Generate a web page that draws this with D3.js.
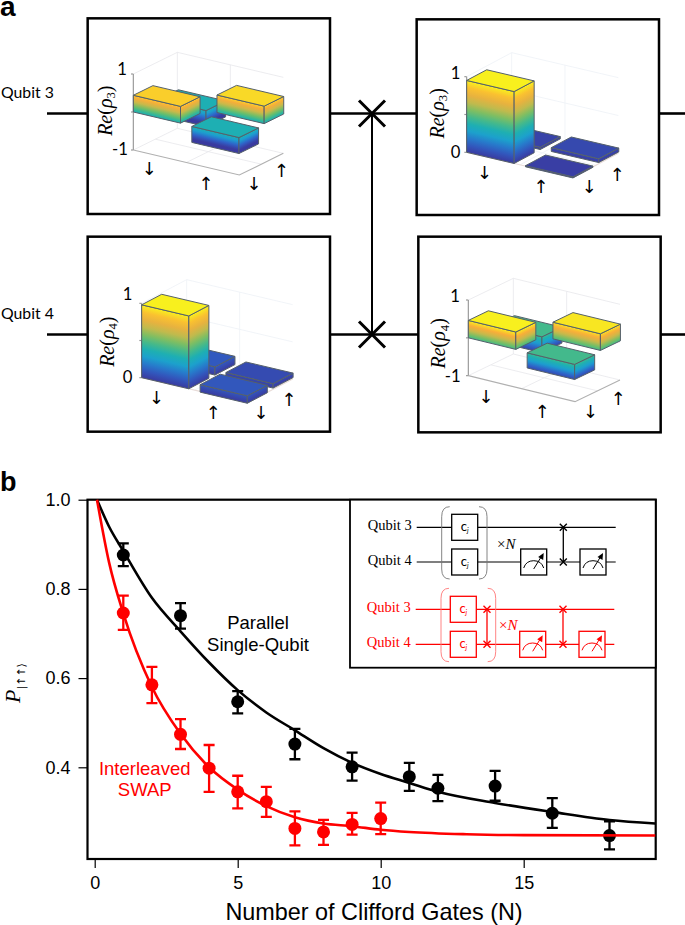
<!DOCTYPE html>
<html>
<head>
<meta charset="utf-8">
<title></title>
<script src="https://d3js.org/d3.v7.min.js"></script>
<style>
    body { margin: 0; background: #fff; }
    svg { display: block; }
    .bars { filter: blur(0.35px); }
</style>
</head>
<body>
<div id="chart"></div>
<script>
// panel a: bar heights, order is back-left, back-right, front-left, front-right
const rho3Before = [-0.42, 0.46, 0.44, -0.42]
const rho3After = [0.03, 0.05, 0.95, 0.015]
const rho4Before = [0.11, 0.06, 0.98, 0.1]
const rho4After = [-0.42, 0.44, 0.46, -0.40]
const barCells = [[0, 0.58], [0.54, 0.6], [0, 0], [0.56, -0.02]]
const barSize = 0.445

// panel b
const parallelN = [1, 3, 5, 7, 9, 11, 12, 14, 16, 18]
const parallelP = [0.876, 0.74, 0.547, 0.452, 0.401, 0.379, 0.353, 0.358, 0.297, 0.247]
const parallelHi = [0.902, 0.768, 0.571, 0.486, 0.433, 0.41, 0.383, 0.392, 0.331, 0.279]
const parallelLo = [0.851, 0.711, 0.521, 0.418, 0.37, 0.347, 0.324, 0.325, 0.264, 0.216]
const swapN = [1, 2, 3, 4, 5, 6, 7, 8, 9, 10]
const swapP = [0.746, 0.585, 0.474, 0.398, 0.345, 0.323, 0.263, 0.255, 0.272, 0.285]
const swapHi = [0.785, 0.625, 0.508, 0.45, 0.381, 0.356, 0.301, 0.282, 0.298, 0.321]
const swapLo = [0.708, 0.544, 0.441, 0.345, 0.308, 0.289, 0.225, 0.226, 0.249, 0.25]

const parallelFitN = [0.08, 0.5, 1, 2, 3, 4, 5, 6, 7, 8, 9, 10, 11, 12, 14, 16, 18, 19.6]
const parallelFitP = [1, 0.94, 0.885, 0.78, 0.705, 0.635, 0.573, 0.523, 0.483, 0.443, 0.41, 0.385, 0.365, 0.345, 0.32, 0.3, 0.282, 0.274]
const swapFitN = [0.08, 0.5, 1, 2, 3, 4, 5, 6, 7, 8, 9, 10, 11, 13, 15, 19.6]
const swapFitP = [1, 0.86, 0.745, 0.58, 0.475, 0.4, 0.35, 0.313, 0.288, 0.274, 0.268, 0.26, 0.255, 0.25, 0.248, 0.247]

const xTicks = [0, 5, 10, 15]
const yTicks = [1, 0.8, 0.6, 0.4]

const parula = ["#3a3a9f", "#2f62c8", "#1c9fd0", "#1fb3ab", "#6cbf68", "#c9b94a", "#fbad38", "#f8f01e"]

const svg = d3.select("#chart").append("svg").attr("width", 685).attr("height", 925)
const defs = svg.append("defs")
const sans = "'Liberation Sans', Arial, sans-serif"
const serif = "'Liberation Serif', serif"
const calibri = "Lato, sans-serif"
const arrowFont = "'DejaVu Sans', sans-serif"

svg.append("text").attr("x", 0).attr("y", 15.5).text("a").style("font", "bold 28px " + sans)
svg.append("text").attr("x", 0).attr("y", 491).text("b").style("font", "bold 27px " + sans)

// wires + swap gate
const wires = svg.append("g").attr("stroke", "#000").attr("stroke-width", 2.6).attr("fill", "none")
;[113.5, 334.5].forEach(y => {
    wires.append("line").attr("x1", 47).attr("x2", 90).attr("y1", y).attr("y2", y)
    wires.append("line").attr("x1", 328).attr("x2", 418).attr("y1", y).attr("y2", y)
    wires.append("line").attr("x1", 658).attr("x2", 685).attr("y1", y).attr("y2", y)
    wires.append("path").attr("d", `M359,${y - 13}L385,${y + 13}M359,${y + 13}L385,${y - 13}`).attr("stroke-width", 3)
})
wires.append("line").attr("x1", 372).attr("x2", 372).attr("y1", 113.5).attr("y2", 334.5).attr("stroke-width", 2)
svg.append("text").attr("x", 1).attr("y", 97.5).text("Qubit 3").style("font", "15.8px " + calibri)
svg.append("text").attr("x", 1).attr("y", 318.5).text("Qubit 4").style("font", "15.8px " + calibri)

// panels are laid out in thirds of a pixel, g gets scale(1/3)
const panels = [
    {
        values: rho3Before, sub: "3", cx: 80, cy: 10, frame: [23, 25, 750, 612], ox: 160,
        zDomain: [-1, 1], zRange: [420, 192], X: [318, 75], Y: [132, -65], colorDomain: [-0.33, 0.5],
        grid: "#e8e8ec", floor: "#b0b0b0",
        tickLabels: [["1", 126, 196], ["-1", 120, 436]], zTicks: [-1, 0, 1], re: [80, 302],
        arrows: [["↓", 208, 475], ["↑", 378, 520], ["↓", 522, 520], ["↑", 605, 482]]
    },
    {
        values: rho3After, sub: "3", cx: 410, cy: 10, frame: [20, 28, 747, 615], ox: 170,
        zDomain: [0, 1], zRange: [427, 200], X: [320, 75], Y: [135, -72], colorDomain: [0, 0.95],
        grid: "#eef2f6", floor: "#e8dcd8",
        tickLabels: [["1", 137, 208], ["0", 137, 445]], zTicks: [0, 0.5, 1], re: [85, 310],
        arrows: [["↓", 224, 487], ["↑", 393, 530], ["↓", 538, 530], ["↑", 622, 492]]
    },
    {
        values: rho4Before, sub: "4", cx: 80, cy: 230, frame: [23, 20, 750, 605], ox: 185,
        zDomain: [0, 1], zRange: [443, 220], X: [318, 75], Y: [135, -71], colorDomain: [0, 0.98],
        grid: "#eef2f6", floor: "#e8dcd8",
        tickLabels: [["1", 143, 211], ["0", 143, 460]], zTicks: [0, 0.5, 1], re: [85, 335],
        arrows: [["↓", 230, 502], ["↑", 400, 547], ["↓", 543, 547], ["↑", 627, 508]]
    },
    {
        values: rho4After, sub: "4", cx: 410, cy: 230, frame: [25, 20, 752, 607], ox: 175,
        zDomain: [-1, 1], zRange: [437, 210], X: [320, 78], Y: [135, -65], colorDomain: [-0.45, 0.46],
        grid: "#e8e8ec", floor: "#b0b0b0",
        tickLabels: [["1", 135, 215], ["-1", 128, 457]], zTicks: [-1, 0, 1], re: [90, 340],
        arrows: [["↓", 228, 498], ["↑", 397, 543], ["↓", 542, 543], ["↑", 625, 505]]
    }
]

panels.forEach((p, pi) => {
    const g = svg.append("g").attr("transform", `translate(${p.cx},${p.cy}) scale(${1 / 3})`)
    g.append("rect")
        .attr("x", p.frame[0]).attr("y", p.frame[1])
        .attr("width", p.frame[2] - p.frame[0]).attr("height", p.frame[3] - p.frame[1])
        .attr("fill", "#fff").attr("stroke", "#000").attr("stroke-width", 7.5)

    const zScale = d3.scaleLinear().domain(p.zDomain).range(p.zRange)
    const project = (a, b, z) => [
        p.ox + p.X[0] * a + p.Y[0] * b,
        zScale(z) + p.X[1] * a + p.Y[1] * b
    ]
    const color = d3.scaleLinear()
        .domain(parula.map((c, i) => p.colorDomain[0] + (p.colorDomain[1] - p.colorDomain[0]) * i / (parula.length - 1)))
        .range(parula)
        .clamp(true)

    const line = d3.line()
    const zLo = p.zDomain[0], zHi = p.zDomain[1]

    // back wall and floor grid
    const grid = g.append("g").attr("fill", "none").attr("stroke", p.grid).attr("stroke-width", 2.5)
    grid.append("path").attr("d", line([project(0, 0, zHi), project(0, 1, zHi), project(1, 1, zHi)]))
    grid.append("path").attr("d", line([project(0, 1, zLo), project(1, 1, zLo)]))
    grid.append("path").attr("d", line([project(0, 1, (zLo + zHi) / 2), project(1, 1, (zLo + zHi) / 2)]))
    grid.append("path").attr("d", line([project(0, 1, zLo), project(0, 1, zHi)]))
    grid.append("path").attr("d", line([project(0.5, 1, zLo), project(0.5, 1, zHi)]))
    grid.append("path").attr("d", line([project(0, 0.5, zLo), project(1, 0.5, zLo)]))
    grid.append("path").attr("d", line([project(0.5, 0, zLo), project(0.5, 1, zLo)]))
    grid.append("path").attr("d", line([project(0, 0, zLo), project(0, 1, zLo)]))

    // axes
    const ax = g.append("g").attr("fill", "none").attr("stroke", "#999").attr("stroke-width", 3.5)
    ax.append("path").attr("d", line([project(0, 0, zLo), project(0, 0, zHi)]))
    ax.append("path").attr("d", line([project(0, 0, zLo), project(1, 0, zLo), project(1, 1, zLo)])).attr("stroke", p.floor)
    p.zTicks.forEach(z => {
        const t = project(0, 0, z)
        ax.append("line").attr("x1", t[0] - 7).attr("x2", t[0]).attr("y1", t[1]).attr("y2", t[1])
    })

    // bars, painter's order
    const bars = g.append("g").attr("class", "bars")
    p.values.forEach((v, vi) => {
        const a0 = barCells[vi][0], b0 = barCells[vi][1]
        const a1 = a0 + barSize, b1 = b0 + barSize
        const lo = Math.min(0, v), hi = Math.max(0, v)
        const faces = [
            { pts: [project(a0, b0, lo), project(a1, b0, lo), project(a1, b0, hi), project(a0, b0, hi)] },
            { pts: [project(a1, b0, lo), project(a1, b1, lo), project(a1, b1, hi), project(a1, b0, hi)] }
        ]
        faces.forEach((f, fi) => {
            // iso-colour lines run along the bottom edge of the face
            const e = [f.pts[1][0] - f.pts[0][0], f.pts[1][1] - f.pts[0][1]]
            const h = [f.pts[3][0] - f.pts[0][0], f.pts[3][1] - f.pts[0][1]]
            const n = [-e[1], e[0]]
            const k = (h[0] * n[0] + h[1] * n[1]) / (n[0] * n[0] + n[1] * n[1])
            const id = `g${pi}-${vi}-${fi}`
            const grad = defs.append("linearGradient").attr("id", id)
                .attr("gradientUnits", "userSpaceOnUse")
                .attr("x1", f.pts[0][0]).attr("y1", f.pts[0][1])
                .attr("x2", f.pts[0][0] + n[0] * k).attr("y2", f.pts[0][1] + n[1] * k)
            d3.range(0, 11).forEach(i => {
                grad.append("stop").attr("offset", i / 10).attr("stop-color", color(lo + (hi - lo) * i / 10))
            })
            bars.append("path").attr("d", line(f.pts) + "Z").attr("fill", `url(#${id})`)
                .attr("stroke", "#55606a").attr("stroke-width", 3).attr("stroke-linejoin", "round")
        })
        bars.append("path")
            .attr("d", line([project(a0, b0, hi), project(a1, b0, hi), project(a1, b1, hi), project(a0, b1, hi)]) + "Z")
            .attr("fill", color(hi)).attr("stroke", "#55606a").attr("stroke-width", 3).attr("stroke-linejoin", "round")
    })

    // labels
    p.tickLabels.forEach(t => {
        g.append("text").attr("x", t[1]).attr("y", t[2]).attr("text-anchor", "middle")
            .text(t[0]).style("font", "50px " + calibri)
    })
    p.arrows.forEach(t => {
        g.append("text").attr("x", t[1]).attr("y", t[2] + 20).attr("text-anchor", "middle")
            .text(t[0]).style("font", "54px " + arrowFont)
    })
    const re = g.append("text").attr("transform", `translate(${p.re[0] + 16},${p.re[1]}) rotate(-90)`)
        .attr("text-anchor", "middle").style("font", "italic 60px " + serif)
    re.append("tspan").text("Re")
    re.append("tspan").text("(").style("font-style", "normal")
    re.append("tspan").text("ρ")
    re.append("tspan").text(p.sub).attr("dy", 10).style("font-size", "38px").style("font-style", "normal")
    re.append("tspan").text(")").attr("dy", -10).style("font-style", "normal")
})

// panel b
const xScale = d3.scaleLinear().domain([0, 15]).range([94.7, 523.7])
const yScale = d3.scaleLinear().domain([1, 0.4]).range([499.7, 767.3])

const plot = svg.append("g")
plot.append("rect").attr("x", 87.5).attr("y", 499.7).attr("width", 568.2).attr("height", 359.3)
    .attr("fill", "none").attr("stroke", "#000").attr("stroke-width", 2.2)

const xAxis = d3.axisBottom(xScale).tickValues(xTicks).tickFormat(d3.format("d")).tickSize(9).tickPadding(8)
const yAxis = d3.axisLeft(yScale).tickValues(yTicks).tickFormat(d3.format(".1f")).tickSize(9).tickPadding(8)
const gx = plot.append("g").attr("transform", "translate(0,859)").call(xAxis)
const gy = plot.append("g").attr("transform", "translate(87.5,0)").call(yAxis)
gx.select(".domain").remove()
gy.select(".domain").remove()
gx.selectAll("line").attr("stroke-width", 1.2)
gy.selectAll("line").attr("stroke-width", 1.2)
plot.selectAll("g.tick text").style("font", "18px " + sans).attr("fill", "#000")

const curve = d3.line().curve(d3.curveMonotoneX)
function drawSeries(color, fitN, fitP, n, p, hi, lo) {
    plot.append("path").attr("fill", "none").attr("stroke", color).attr("stroke-width", 2.6)
        .attr("d", curve(fitN.map((d, i) => [xScale(d), yScale(fitP[i])])))
    const pts = plot.append("g").selectAll("g").data(n).enter().append("g")
    pts.append("path").attr("fill", "none").attr("stroke", color).attr("stroke-width", 2.3)
        .attr("d", (d, i) => {
            const x = xScale(d), t = yScale(hi[i]), b = yScale(lo[i])
            return `M${x - 5.5},${t}H${x + 5.5}M${x},${t}V${b}M${x - 5.5},${b}H${x + 5.5}`
        })
    pts.append("circle").attr("cx", d => xScale(d)).attr("cy", (d, i) => yScale(p[i])).attr("r", 6.5).attr("fill", color)
}
drawSeries("#000", parallelFitN, parallelFitP, parallelN, parallelP, parallelHi, parallelLo)
drawSeries("#f00", swapFitN, swapFitP, swapN, swapP, swapHi, swapLo)

function centered(x, y, str, color, size) {
    return svg.append("text").attr("x", x).attr("y", y).attr("text-anchor", "middle").attr("fill", color)
        .text(str).style("font", size + "px " + sans)
}
centered(258, 629, "Parallel", "#000", 18.5)
centered(258, 650.5, "Single-Qubit", "#000", 18.5)
centered(144.7, 775, "Interleaved", "#f00", 18.5)
centered(144.7, 796, "SWAP", "#f00", 18.5)
centered(374, 920, "Number of Clifford Gates (N)", "#000", 23.4)

const yLabel = svg.append("text").attr("transform", "translate(20,703) rotate(-90)")
    .style("font", "italic 22px " + serif)
yLabel.append("tspan").text("P")
yLabel.append("tspan").text("|↑↑⟩").attr("dy", 5).style("font", "11px " + arrowFont)

// inset with the two gate sequences
svg.append("rect").attr("x", 350).attr("y", 499.7).attr("width", 305.7).attr("height", 168)
    .attr("fill", "#fff").attr("stroke", "#000").attr("stroke-width", 1.8)

function circuit(color, bracketColor, o) {
    const c = svg.append("g")
    const wire = c.append("g").attr("stroke", color).attr("stroke-width", 1.2)
    o.ys.forEach((y, i) => {
        wire.append("line").attr("x1", o.x0).attr("x2", o.x1).attr("y1", y).attr("y2", y)
        c.append("text").attr("x", o.x0 - 5).attr("y", y + 3).attr("text-anchor", "end").attr("fill", color)
            .text("Qubit " + (i + 3)).style("font", "14.5px " + serif)
        const b = c.append("g")
        b.append("rect").attr("x", o.cx).attr("y", y - 13).attr("width", 26).attr("height", 26)
            .attr("fill", "#fff").attr("stroke", color).attr("stroke-width", 1.3)
        const t = b.append("text").attr("x", o.cx + 13).attr("y", y + 4).attr("text-anchor", "middle").attr("fill", color)
            .style("font", "13px " + calibri)
        t.append("tspan").text("c")
        t.append("tspan").text("j").attr("dy", 2).style("font-size", "7px").style("font-style", "italic")
    })
    const [t, b] = o.bracketY
    const [l, r] = o.bracketX
    c.append("path").attr("fill", "none").attr("stroke", bracketColor).attr("stroke-width", 0.9)
        .attr("d", `M${l + 8},${t}Q${l},${t} ${l},${t + 10}V${b - 10}Q${l},${b} ${l + 8},${b}`
            + `M${r - 8},${t}Q${r},${t} ${r},${t + 10}V${b - 10}Q${r},${b} ${r - 8},${b}`)
    o.swaps.forEach(x => {
        c.append("line").attr("x1", x).attr("x2", x).attr("y1", o.ys[0]).attr("y2", o.ys[1])
            .attr("stroke", color).attr("stroke-width", 1.3)
        o.ys.forEach(y => {
            c.append("path").attr("fill", "none").attr("stroke", color).attr("stroke-width", 1.4)
                .attr("d", `M${x - 3.5},${y - 3.5}L${x + 3.5},${y + 3.5}M${x - 3.5},${y + 3.5}L${x + 3.5},${y - 3.5}`)
        })
    })
    o.meters.forEach(x => {
        const y = o.ys[1]
        c.append("rect").attr("x", x).attr("y", y - 13).attr("width", 26).attr("height", 26)
            .attr("fill", "#fff").attr("stroke", color).attr("stroke-width", 1.3)
        c.append("path").attr("fill", "none").attr("stroke", color).attr("stroke-width", 1)
            .attr("d", `M${x + 3},${y + 6}A10.5,10.5 0 0 1 ${x + 23},${y + 6}`)
        c.append("line").attr("x1", x + 13).attr("y1", y + 7).attr("x2", x + 21).attr("y2", y - 6)
            .attr("stroke", color).attr("stroke-width", 1)
        c.append("path").attr("fill", color).attr("d", `M${x + 23},${y - 9}L${x + 22.5},${y - 2}L${x + 17.5},${y - 5}Z`)
    })
    const n = c.append("text").attr("x", o.nx).attr("y", o.ny).attr("fill", color).style("font", "italic 15px " + serif)
    n.append("tspan").text("×").style("font-style", "normal")
    n.append("tspan").text("N")
}
circuit("#000", "#777", {
    ys: [527.3, 562], x0: 416.7, x1: 615.7, cx: 451.7, bracketX: [441.7, 487], bracketY: [506.7, 579],
    swaps: [563.3], meters: [520.7, 580], nx: 497, ny: 549
})
circuit("#f00", "#f77", {
    ys: [609.3, 644.3], x0: 415.7, x1: 614.3, cx: 450.3, bracketX: [441, 495.7], bracketY: [588.3, 661.7],
    swaps: [487, 563], meters: [519.7, 579], nx: 499, ny: 630
})
</script>
</body>
</html>
